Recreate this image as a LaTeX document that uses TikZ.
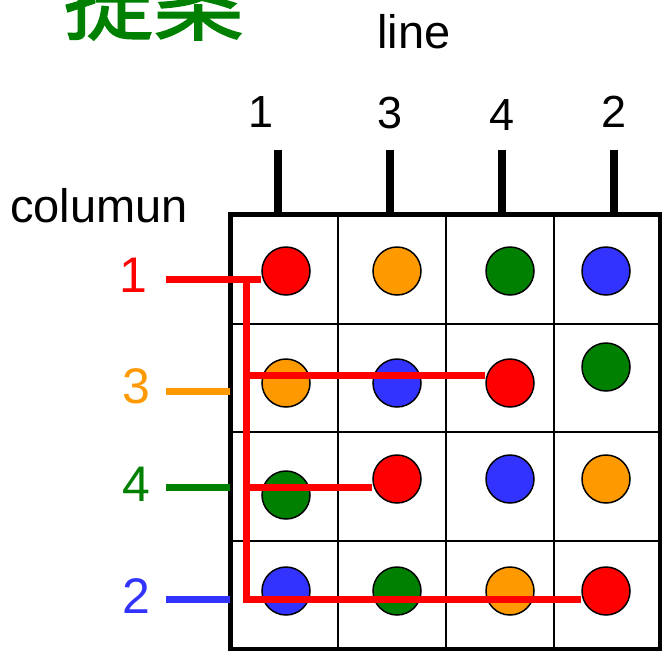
\documentclass[tikz,border=0pt]{standalone}
\usepackage{fontspec}
\usetikzlibrary{calc}
\setmainfont{Liberation Sans}
\newfontfamily\cjkfont{Noto Sans CJK SC}[FakeBold=1.5]
\definecolor{cred}{RGB}{255,0,0}
\definecolor{corange}{RGB}{255,153,0}
\definecolor{cgreen}{RGB}{0,128,0}
\definecolor{cblue}{RGB}{51,51,255}
\tikzset{
  dot/.style={circle,draw=black,line width=1.5pt,minimum size=48pt,inner sep=0pt,fill=#1},
  redline/.style={cred,line width=7pt},
  lab/.style={anchor=base,inner sep=0pt,font=\fontsize{47}{50}\selectfont},
  toplab/.style={anchor=base,inner sep=0pt,font=\fontsize{45}{50}\selectfont},
  leftlab/.style={anchor=base,inner sep=0pt,font=\fontsize{50}{55}\selectfont,text=#1},
  tick/.style={line width=8pt},
  colline/.style={line width=7pt,#1},
  thin/.style={line width=2pt},
  border/.style={line width=5pt}
}
\begin{document}
\begin{tikzpicture}[x=1pt,y=-1pt]
\useasboundingbox (0,0) rectangle (662,651);
\clip (0,0) rectangle (662,651);
% title
\node[anchor=base,inner sep=0pt,text=cgreen,font=\cjkfont\fontsize{90}{95}\selectfont] (title) at (153.5,33) {提案};
\node[lab] (linelab) at (414,48) {line};
\node[lab] (collab) at (99,222) {columun};
% top numbers
\node[toplab] (t1) at (261,127) {1};
\node[toplab] (t3) at (390,128) {3};
\node[toplab] (t4) at (502,130) {4};
\node[toplab] (t2) at (614,127) {2};
% ticks
\coordinate (k1a) at (278,150); \coordinate (k1b) at (278,214);
\coordinate (k2a) at (390,150); \coordinate (k2b) at (390,214);
\coordinate (k3a) at (502,150); \coordinate (k3b) at (502,214);
\coordinate (k4a) at (614,150); \coordinate (k4b) at (614,214);
\draw[tick] (k1a) -- (k1b);
\draw[tick] (k2a) -- (k2b);
\draw[tick] (k3a) -- (k3b);
\draw[tick] (k4a) -- (k4b);
% grid
\draw[thin] (338,214.5) -- (338,649);
\draw[thin] (446,214.5) -- (446,649);
\draw[thin] (554,214.5) -- (554,649);
\draw[thin] (230.5,323.5) -- (660,323.5);
\draw[thin] (230.5,432) -- (660,432);
\draw[thin] (230.5,541) -- (660,541);
\draw[border] (230.5,214.5) rectangle (660,649);
% left labels
\node[leftlab=cred] (l1) at (133,292) {1};
\node[leftlab=corange] (l3) at (136,403) {3};
\node[leftlab=cgreen] (l4) at (136,501) {4};
\node[leftlab=cblue] (l2) at (136,613) {2};
% circles
\node[dot=cred] (c11) at (286,271) {};
\node[dot=corange] (c12) at (397,271) {};
\node[dot=cgreen] (c13) at (510,271) {};
\node[dot=cblue] (c14) at (606,271) {};
\node[dot=corange] (c21) at (286,383) {};
\node[dot=cblue] (c22) at (397,383) {};
\node[dot=cred] (c23) at (510,383) {};
\node[dot=cgreen] (c24) at (606,367) {};
\node[dot=cgreen] (c31) at (286,495) {};
\node[dot=cred] (c32) at (397,479) {};
\node[dot=cblue] (c33) at (510,479) {};
\node[dot=corange] (c34) at (606,479) {};
\node[dot=cblue] (c41) at (286,591) {};
\node[dot=cgreen] (c42) at (397,591) {};
\node[dot=corange] (c43) at (510,591) {};
\node[dot=cred] (c44) at (606,591) {};
% left colored lines
\coordinate (s1) at (166,279);
\coordinate (s3) at (166,391); \coordinate (e3) at (230,391);
\coordinate (s4) at (166,487); \coordinate (e4) at (230,487);
\coordinate (s2) at (166,599); \coordinate (e2) at (230,599);
\draw[colline=corange] (s3) -- (e3);
\draw[colline=cgreen] (s4) -- (e4);
\draw[colline=cblue] (s2) -- (e2);
% red path
\coordinate (v1) at (246,279);
\coordinate (v2) at (246,375);
\coordinate (v3) at (246,487);
\coordinate (v4) at (246,599);
\draw[redline] (s1) -- (c11.west|-s1);
\draw[redline] (v1) -- (v4) -- ($(c44.west)+(0,8)$);
\draw[redline] (v2) -- ($(c23.west)+(0,-8)$);
\draw[redline] (v3) -- ($(c32.west)+(0,8)$);
\end{tikzpicture}
\end{document}
